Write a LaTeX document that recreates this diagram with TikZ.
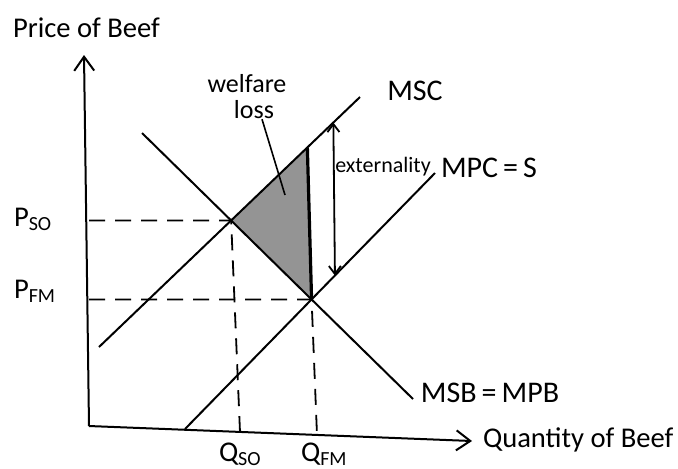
\documentclass[tikz,border=0pt]{standalone}
\usepackage{fontspec}
\setmainfont{Carlito}
\usetikzlibrary{arrows.meta}

\begin{document}
\begin{tikzpicture}[x=0.5pt, y=-0.5pt, line width=1pt,
    every node/.style={inner sep=0pt, font=\fontsize{14.3}{17}\selectfont},
    hand/.style={font=\fontsize{15}{17}\selectfont},
    guide/.style={dash pattern=on 8pt off 5pt, line width=0.9pt},
    axis/.style={-{Straight Barb[length=7pt,width=10pt]}},
    gap/.style={{Straight Barb[length=4pt,width=6pt]}-{Straight Barb[length=4pt,width=6pt]}, line width=0.9pt}]
  \useasboundingbox (0,0) rectangle (678,468);

  % axes
  \coordinate (O) at (89,426);
  \coordinate (ytop) at (84,55);
  \coordinate (xend) at (472,441);
  \node[anchor=base west] (ylab) at (12,37) {Price of Beef};
  \node[anchor=base west] (xlab) at (482,447) {Quantity of Beef};

  % curves and their crossings
  \coordinate (msc1) at (99,347);  \coordinate (msc2) at (360,97);
  \coordinate (mpc1) at (185,429); \coordinate (mpc2) at (435,173);
  \coordinate (msb1) at (142,133); \coordinate (msb2) at (413,399);
  \coordinate (so) at (intersection of msc1--msc2 and msb1--msb2);
  \coordinate (fm) at (intersection of mpc1--mpc2 and msb1--msb2);
  \coordinate (up) at (306,100);
  \coordinate (top) at (intersection of msc1--msc2 and fm--up);

  % welfare loss
  \fill[black!42] (so) -- (top) -- (fm) -- cycle;

  \draw[axis] (O) -- (ytop);
  \draw[axis] (O) -- (xend);
  \draw (msc1) -- (msc2);
  \draw (mpc1) -- (mpc2);
  \draw (msb1) -- (msb2);
  \draw[line width=1.6pt] (top) -- (fm);

  % dashed guides
  \coordinate (qso) at (240,432);
  \coordinate (qfm) at (317,435);
  \draw[guide] (so -| O) -- (so) -- (qso);
  \draw[guide] (fm -| O) -- (fm) -- (qfm);

  \node[anchor=base west] (pso) at (13,226) {P\textsubscript{SO}};
  \node[anchor=base west] (pfm) at (13,298) {P\textsubscript{FM}};
  \node[anchor=base west] (qsol) at (218,461) {Q\textsubscript{SO}};
  \node[anchor=base west] (qfml) at (300,461) {Q\textsubscript{FM}};

  % externality gap
  \coordinate (ea) at (332,0); \coordinate (eb) at (337,468);
  \coordinate (ext1) at (intersection of ea--eb and msc1--msc2);
  \coordinate (ext2) at (intersection of ea--eb and mpc1--mpc2);
  \draw[gap] (ext1) -- (ext2);

  % curve labels
  \node[hand] (msc) at (415,91) {MSC};
  \node[hand] (mpc) at (489,168) {MPC\,=\,S};
  \node[hand] (msb) at (490,393) {MSB\,=\,MPB};
  \node[font=\fontsize{11}{13}\selectfont] (ext) at (383,167) {externality};
  \node[font=\fontsize{13}{15}\selectfont, anchor=base] (wl1) at (247,92) {welfare};
  \node[font=\fontsize{13}{15}\selectfont, anchor=base] (wl2) at (254,118) {loss};
  \coordinate (wlp) at (285,195);
  \draw[line width=0.8pt] ([xshift=4pt]wl2.south) -- (wlp);
\end{tikzpicture}
\end{document}
